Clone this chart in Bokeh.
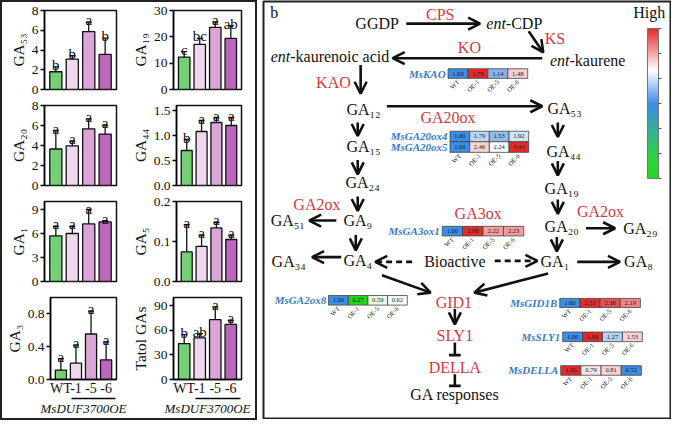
import math
from bokeh.plotting import figure
from bokeh.models import (Range1d, FixedTicker, LinearAxis, ColumnDataSource, Whisker,
                          TeeHead, Arrow, OpenHead, Label, ColorBar, LinearColorMapper,
                          PrintfTickFormatter, Spacer)
from bokeh.layouts import row, column
from bokeh.core.properties import value
from bokeh.transform import linear_cmap
from bokeh.embed import file_html
from bokeh.resources import INLINE

FONT = "Liberation Serif"
SUB = str.maketrans("0123456789", "\u2080\u2081\u2082\u2083\u2084\u2085\u2086\u2087\u2088\u2089")

# ---------------- data: panel a (GA contents) ----------------
lines_a = ["WT", "-1", "-5", "-6"]
group_label = "MsDUF3700OE"

ga53 = [1.80, 3.07, 5.87, 3.55]
ga53_err = [0.50, 0.35, 0.95, 1.65]
ga53_sig = ["b", "b", "a", "b"]

ga19 = [12.3, 17.1, 23.6, 19.4]
ga19_err = [2.1, 2.3, 2.1, 4.8]
ga19_sig = ["c", "bc", "a", "ab"]

ga20 = [3.65, 3.96, 5.67, 5.14]
ga20_err = [1.85, 0.47, 1.00, 0.90]
ga20_sig = ["a", "a", "a", "a"]

ga44 = [0.70, 1.08, 1.26, 1.20]
ga44_err = [0.22, 0.22, 0.10, 0.16]
ga44_sig = ["b", "a", "a", "a"]

ga1 = [5.7, 6.0, 7.2, 7.45]
ga1_err = [1.2, 0.9, 1.8, 0.15]
ga1_sig = ["a", "a", "a", "a"]

ga5 = [0.074, 0.088, 0.134, 0.105]
ga5_err = [0.068, 0.028, 0.014, 0.011]
ga5_sig = ["a", "a", "a", "a"]

ga3 = [0.115, 0.20, 0.555, 0.24]
ga3_err = [0.14, 0.22, 0.28, 0.22]
ga3_sig = ["a", "a", "a", "a"]

total_ga = [43.8, 50.8, 73.0, 67.2]
total_ga_err = [11.0, 5.0, 15.6, 5.0]
total_ga_sig = ["b", "ab", "a", "a"]

# ---------------- data: panel b (relative expression) ----------------
expr_lines = ["WT", "OE-1", "OE-5", "OE-6"]
kao_expr = [1.00, 1.78, 1.14, 1.48]
ga20ox4_expr = [1.00, 1.79, 1.53, 1.92]
ga20ox5_expr = [1.00, 2.46, 2.24, 3.44]
ga3ox1_expr = [1.00, 2.68, 2.22, 2.23]
ga2ox8_expr = [1.00, 0.27, 0.59, 0.62]
gid1b_expr = [1.00, 2.51, 2.38, 2.19]
sly1_expr = [1.00, 1.88, 1.27, 1.53]
della_expr = [1.00, 0.79, 0.81, 0.52]

# ---------------- styles ----------------
BAR_COLORS = ["#74d074", "#efd8ef", "#dba5d8", "#bd66bd"]
RED = "#d23a42"
BLUE = "#3a7cc4"
INK = "#111111"
SX, SY = 0.977, 0.963


def make_palette(stops, n=256):
    ts = [s[0] for s in stops]
    cols = [tuple(int(s[1][i:i + 2], 16) for i in (1, 3, 5)) for s in stops]
    out = []
    for k in range(n):
        t = k / (n - 1)
        j = 0
        while j < len(ts) - 2 and t > ts[j + 1]:
            j += 1
        f = (t - ts[j]) / (ts[j + 1] - ts[j])
        c = [round(cols[j][m] + f * (cols[j + 1][m] - cols[j][m])) for m in range(3)]
        out.append("#%02x%02x%02x" % tuple(c))
    return out


BWR = make_palette([(0, "#3b8de6"), (0.5, "#ffffff"), (1, "#e4292d")])
GWB = make_palette([(0, "#1fd61f"), (0.5, "#ffffff"), (1, "#3b8de6")])
CBAR = make_palette([(0, "#1fd61f"), (0.12, "#2cd63a"), (0.5, "#3b8de6"),
                     (0.72, "#ffffff"), (1, "#e4292d")])

# ---------------- panel a ----------------
COL_GEOM = [(129, 43, 12), (130, 38, 14)]          # ref px: width, border left, border right
ROW_GEOM = [(99, 8, 8), (100, 8, 8), (100, 8, 8), (134, 8, 41)]  # height, top, bottom


def bar_panel(vals, errs, sig, ylabel, ymax, ticks, fmt, ci, ri):
    w, bl, br = COL_GEOM[ci]
    h, bt, bb = ROW_GEOM[ri]
    bottom = ri == 3
    p = figure(width=round(w * SX), height=round(h * SY),
               x_range=Range1d(-0.69, 3.69), y_range=Range1d(0, ymax),
               output_backend="svg", toolbar_location=None,
               min_border_left=round(bl * SX), min_border_right=round(br * SX),
               min_border_top=round(bt * SY), min_border_bottom=round(bb * SY))
    p.grid.visible = False
    p.outline_line_color = INK
    p.outline_line_width = 1.5
    p.background_fill_color = None
    p.border_fill_color = None
    up = [v + e for v, e in zip(vals, errs)]
    lo = [v - e for v, e in zip(vals, errs)]
    ly = [min(u, 0.88 * ymax) for u in up]
    src = ColumnDataSource(dict(x=[0, 1, 2, 3], v=vals, up=up, lo=lo, ly=ly,
                                sig=sig, fillc=BAR_COLORS))
    p.vbar(x="x", top="v", width=0.74, fill_color="fillc", line_color=INK,
           line_width=1.3, source=src)
    p.add_layout(Whisker(base="x", upper="up", lower="lo", source=src,
                         line_width=1.3, line_color=INK,
                         upper_head=TeeHead(size=6, line_width=1.3, line_color=INK),
                         lower_head=TeeHead(size=6, line_width=1.3, line_color=INK)))
    p.text(x="x", y="ly", text="sig", source=src, text_font=value(FONT),
           text_font_size="15px", text_align="center", text_baseline="alphabetic",
           y_offset=-2, text_color=INK)
    ya = p.yaxis[0]
    ya.ticker = FixedTicker(ticks=ticks)
    if fmt:
        ya.formatter = PrintfTickFormatter(format=fmt)
    ya.axis_label = ylabel
    ya.axis_label_text_font = FONT
    ya.axis_label_text_font_style = "normal"
    ya.axis_label_text_font_size = "15.5px"
    ya.axis_label_text_color = INK
    ya.axis_label_standoff = 2
    ya.major_label_text_font = FONT
    ya.major_label_text_font_size = "13.5px"
    ya.major_label_text_color = INK
    ya.major_label_standoff = 2
    ya.major_tick_out = 4
    ya.major_tick_in = 0
    ya.major_tick_line_width = 1.5
    ya.minor_tick_line_color = None
    ya.axis_line_width = 1.5
    xa = p.xaxis[0]
    if bottom:
        xa.ticker = FixedTicker(ticks=[0, 1, 2, 3])
        xa.major_label_overrides = {i: t for i, t in enumerate(lines_a)}
        xa.major_label_text_font = FONT
        xa.major_label_text_font_size = "14px"
        xa.major_label_text_color = INK
        xa.major_label_standoff = 1
        xa.major_tick_out = 0
        xa.major_tick_in = 0
        xa.minor_tick_line_color = None
        xa.axis_line_width = 1.5
        ext = LinearAxis(bounds=(0.72, 3.62), ticker=FixedTicker(ticks=[]),
                         axis_label=group_label, axis_label_text_font=FONT,
                         axis_label_text_font_style="italic",
                         axis_label_text_font_size="13px", axis_label_standoff=2,
                         axis_label_text_color=INK, axis_line_width=1.3,
                         major_tick_line_color=None, minor_tick_line_color=None)
        p.add_layout(ext, "below")
    else:
        xa.visible = False
    return p


f53 = bar_panel(ga53, ga53_err, ga53_sig, "GA" + "53".translate(SUB), 8, [0, 2, 4, 6, 8], None, 0, 0)
f19 = bar_panel(ga19, ga19_err, ga19_sig, "GA" + "19".translate(SUB), 30, [0, 10, 20, 30], None, 1, 0)
f20 = bar_panel(ga20, ga20_err, ga20_sig, "GA" + "20".translate(SUB), 8, [0, 2, 4, 6, 8], None, 0, 1)
f44 = bar_panel(ga44, ga44_err, ga44_sig, "GA" + "44".translate(SUB), 1.6, [0, 0.5, 1.0, 1.5], "%.1f", 1, 1)
f1 = bar_panel(ga1, ga1_err, ga1_sig, "GA" + "1".translate(SUB), 10, [0, 3, 6, 9], None, 0, 2)
f5 = bar_panel(ga5, ga5_err, ga5_sig, "GA" + "5".translate(SUB), 0.2, [0, 0.1, 0.2], "%.1f", 1, 2)
f3 = bar_panel(ga3, ga3_err, ga3_sig, "GA" + "3".translate(SUB), 1.0, [0, 0.4, 0.8], "%.1f", 0, 3)
ftot = bar_panel(total_ga, total_ga_err, total_ga_sig, "Tatol GAs", 100, [0, 30, 60, 90], None, 1, 3)

f53.add_layout(Label(x=-38, y=76, x_units="screen", y_units="screen", text="a",
                     text_font=FONT, text_font_size="16px", text_align="center",
                     text_baseline="middle", text_color=INK))

left_panel = column(row(f53, f19), row(f20, f44), row(f1, f5), row(f3, ftot),
                    styles={"border": "2px solid #222"})

# ---------------- panel b ----------------
pb = figure(width=409, height=419, x_range=Range1d(270, 689), y_range=Range1d(436, 2),
            output_backend="svg", toolbar_location=None, x_axis_type=None,
            y_axis_type=None, min_border=1)
pb.grid.visible = False
pb.outline_line_color = "#222"
pb.outline_line_width = 2
pb.background_fill_color = None
pb.border_fill_color = None

TXT = dict(text_font=value(FONT), text_font_size="16px", text_baseline="middle")

# node layout (name, x, y) in reference pixel coordinates
ga_nodes = [("GA12", 373, 114), ("GA53", 580, 113), ("GA15", 373, 153), ("GA44", 579, 158),
            ("GA24", 372, 190), ("GA19", 577, 197), ("GA51", 295, 230), ("GA9", 367, 230),
            ("GA20", 577, 236), ("GA29", 658, 238), ("GA34", 296, 273), ("GA4", 367, 272),
            ("GA1", 570, 273), ("GA8", 656, 273)]
plain_nodes = [("GGDP", 387, 25), ("Bioactive", 467, 273), ("GA responses", 467, 411),
               ("High", 667, 13), ("b", 281, 13)]
enzyme_nodes = [("CPS", 452, 16), ("KS", 570, 40), ("KO", 482, 50), ("KAO", 342, 86),
                ("GA20ox", 460, 123), ("GA2ox", 325, 213), ("GA3ox", 491, 223),
                ("GA2ox", 617, 221), ("GID1", 466, 315), ("SLY1", 467, 350),
                ("DELLA", 467, 383)]
ent_nodes = [("-CDP", 519.5, 25), ("-kaurene", 585, 63), ("-kaurenoic acid", 297.5, 59)]

names = [n[0][:2] + n[0][2:].translate(SUB) for n in ga_nodes] + [n[0] for n in plain_nodes]
pb.text(x=[n[1] for n in ga_nodes] + [n[1] for n in plain_nodes],
        y=[n[2] for n in ga_nodes] + [n[2] for n in plain_nodes],
        text=names, text_align="center", text_color=INK, **TXT)
pb.text(x=[n[1] for n in enzyme_nodes], y=[n[2] for n in enzyme_nodes],
        text=[n[0] for n in enzyme_nodes], text_align="center", text_color=RED, **TXT)
pb.text(x=[n[1] for n in ent_nodes], y=[n[2] for n in ent_nodes],
        text=["ent"] * len(ent_nodes), text_align="right", text_color=INK,
        text_font_style="italic", **TXT)
pb.text(x=[n[1] for n in ent_nodes], y=[n[2] for n in ent_nodes],
        text=[n[0] for n in ent_nodes], text_align="left", text_color=INK, **TXT)

# arrows
solid_arrows = dict(
    x0=[417, 543, 557, 370, 397, 367, 367, 367, 573, 573, 573, 345, 365, 350, 572, 602, 593, 392, 563, 467],
    y0=[25, 33, 61, 68, 111, 128, 167, 205, 128, 168, 208, 230, 245, 268, 247, 238, 273, 287, 285, 322],
    x1=[493, 558, 403, 370, 557, 367, 367, 367, 573, 573, 573, 317, 365, 320, 572, 632, 637, 442, 487, 467],
    y1=[25, 55, 61, 98, 111, 142, 182, 220, 143, 183, 223, 230, 261, 268, 262, 238, 273, 305, 305, 338])
dashed_arrows = dict(x0=[423, 508], y0=[273, 272], x1=[385, 552], y1=[273, 272])
pb.add_layout(Arrow(end=OpenHead(size=12, line_width=2.6, line_color=INK),
                    x_start="x0", y_start="y0", x_end="x1", y_end="y1",
                    source=ColumnDataSource(solid_arrows), line_width=2.6, line_color=INK))
pb.add_layout(Arrow(end=OpenHead(size=12, line_width=2.6, line_color=INK),
                    x_start="x0", y_start="y0", x_end="x1", y_end="y1",
                    source=ColumnDataSource(dashed_arrows), line_width=2.6,
                    line_color=INK, line_dash="6 4"))
# inhibition bars
pb.segment(x0=[467, 467, 461, 461], y0=[357, 390, 370, 402],
           x1=[467, 467, 473, 473], y1=[370, 402, 370, 402], line_width=2.6, line_color=INK)

# heatmaps: gene, values, x0, top, cell w, cell h, show col labels, palette, low, high
heat = [
    ("MsKAO", kao_expr, 460, 72, 20.5, 10, True, BWR, 1.0, 1.78),
    ("MsGA20ox4", ga20ox4_expr, 462, 137, 20.25, 11, False, BWR, 1.0, 3.44),
    ("MsGA20ox5", ga20ox5_expr, 462, 148, 20.25, 11, True, BWR, 1.0, 3.44),
    ("MsGA3ox1", ga3ox1_expr, 454, 236, 21, 10, True, BWR, 1.0, 2.68),
    ("MsGA2ox8", ga2ox8_expr, 337, 308, 20.25, 10, True, GWB, 0.27, 1.0),
    ("MsGID1B", gid1b_expr, 575, 311, 20.75, 9.5, True, BWR, 1.0, 2.51),
    ("MsSLY1", sly1_expr, 578, 346, 20.5, 10, True, BWR, 1.0, 1.88),
    ("MsDELLA", della_expr, 576, 381, 20.75, 10, True, BWR, 0.52, 1.0),
]
for gene, vals, x0, top, cw, ch, show, pal, lo, hi in heat:
    xs = [x0 + cw * (i + 0.5) for i in range(len(vals))]
    yc = top + ch / 2
    src = ColumnDataSource(dict(x=xs, y=[yc] * len(vals), v=vals,
                                t=["%.2f" % v for v in vals], lab=expr_lines))
    pb.rect(x="x", y="y", width=cw, height=ch, source=src,
            fill_color=linear_cmap("v", pal, lo, hi), line_color="#444", line_width=0.8)
    pb.text(x="x", y="y", text="t", source=src, text_font=value(FONT),
            text_font_size="6.5px", text_align="center", text_baseline="middle",
            text_color="#222")
    pb.text(x=[x0 - 2.5], y=[yc], text=[gene], text_font=value(FONT),
            text_font_size="11px", text_font_style="bold italic", text_align="right",
            text_baseline="middle", text_color=BLUE)
    if show:
        pb.text(x="x", y=top + ch + 2.5, text="lab", source=src, text_font=value(FONT),
                text_font_size="6.5px", text_align="right", text_baseline="middle",
                angle=45, angle_units="deg", text_color="#222")

cb = ColorBar(color_mapper=LinearColorMapper(palette=CBAR, low=0, high=1),
              orientation="vertical", width=11, height=150, location=(384, 240),
              padding=0, ticker=FixedTicker(ticks=[0, 1 / 6, 2 / 6, 3 / 6, 4 / 6, 5 / 6, 1]),
              major_tick_in=0, major_tick_out=3, major_tick_line_color="#555",
              major_label_text_alpha=0, major_label_text_font_size="5px",
              bar_line_color="#777", background_fill_alpha=0, border_line_color=None)
pb.add_layout(cb)

layout = row(left_panel, Spacer(width=5, height=419), pb)
open("out.html", "w").write(file_html(layout, INLINE))
